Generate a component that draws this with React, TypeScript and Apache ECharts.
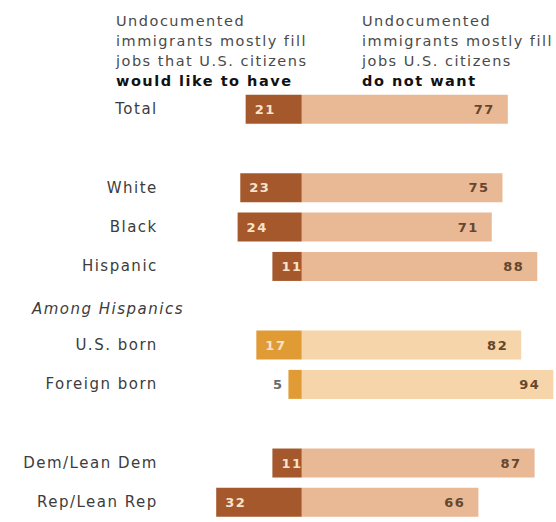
import React, { useEffect, useRef } from "react";
import * as echarts from "echarts";

// ---- data ----
const categories = [
  "Total",
  "",
  "White",
  "Black",
  "Hispanic",
  "Among Hispanics",
  "U.S. born",
  "Foreign born",
  " ",
  "Dem/Lean Dem",
  "Rep/Lean Rep",
];
const wouldLikeToHave: (number | null)[] = [21, null, 23, 24, 11, null, 17, 5, null, 11, 32];
const doNotWant: (number | null)[] = [77, null, 75, 71, 88, null, 82, 94, null, 87, 66];
const hispanicSubgroups = ["U.S. born", "Foreign born"];
const sectionLabels = ["Among Hispanics"];
const leftHeader = ["Undocumented", "immigrants mostly fill", "jobs that U.S. citizens"];
const leftHeaderBold = "would like to have";
const rightHeader = ["Undocumented", "immigrants mostly fill", "jobs U.S. citizens"];
const rightHeaderBold = "do not want";

// ---- styles ----
const FONT = "DejaVu Sans";
const DARK = "#a5582b";
const LIGHT = "#e9b995";
const ORANGE = "#e19b35";
const LIGHT_ORANGE = "#f5d5a9";

export default function App() {
  const ref = useRef<HTMLDivElement>(null);

  useEffect(() => {
    if (!ref.current) return;
    const chart = echarts.init(ref.current, undefined, { renderer: "svg" });

    const isSub = (i: number) => hispanicSubgroups.includes(categories[i]);

    const option: any = {
      animation: false,
      backgroundColor: "#ffffff",
      grid: { left: 194.8, top: 89.5, width: 361.8, height: 440 },
      xAxis: { type: "value", min: -40, max: 95, show: false },
      yAxis: {
        type: "category",
        data: categories,
        inverse: true,
        axisLine: { show: false },
        axisTick: { show: false },
        splitLine: { show: false },
        axisLabel: {
          interval: 0,
          margin: 37,
          fontSize: 15,
          fontFamily: FONT,
          color: "#3c3c3c",
          formatter: (v: string) => (sectionLabels.includes(v) ? "" : v),
        },
      },
      series: [
        {
          name: "Would like to have",
          type: "bar",
          stack: "total",
          barWidth: 29,
          data: wouldLikeToHave.map((v, i) =>
            v == null
              ? "-"
              : {
                  value: -v,
                  itemStyle: { color: isSub(i) ? ORANGE : DARK },
                  label:
                    v < 8
                      ? { position: "left", distance: 5, color: "#6a6a6a" }
                      : undefined,
                }
          ),
          label: {
            show: true,
            position: "insideLeft",
            distance: 9,
            fontFamily: FONT,
            fontSize: 13,
            fontWeight: "bold",
            color: "#f8e3cc",
            formatter: (p: any) => String(Math.abs(p.value)),
          },
        },
        {
          name: "Do not want",
          type: "bar",
          stack: "total",
          barWidth: 29,
          data: doNotWant.map((v, i) =>
            v == null
              ? "-"
              : { value: v, itemStyle: { color: isSub(i) ? LIGHT_ORANGE : LIGHT } }
          ),
          label: {
            show: true,
            position: "insideRight",
            distance: 13,
            fontFamily: FONT,
            fontSize: 13,
            fontWeight: "bold",
            color: "#65472f",
          },
        },
      ],
    };
    chart.setOption(option);

    const headerText = (x: number, lines: string[], bold: string) => [
      {
        type: "text",
        left: x,
        top: 11,
        style: {
          text: lines.join("\n"),
          fontFamily: FONT,
          fontSize: 14.5,
          lineHeight: 20,
          fill: "#4a4a4a",
        },
      },
      {
        type: "text",
        left: x,
        top: 71,
        style: {
          text: bold,
          fontFamily: FONT,
          fontSize: 14.5,
          fontWeight: "bold",
          lineHeight: 20,
          fill: "#111111",
        },
      },
    ];

    const sectionGraphics = sectionLabels.map((name) => {
      const y = chart.convertToPixel({ yAxisIndex: 0 }, name) as number;
      return {
        type: "text",
        x: 184,
        y: y + 3,
        style: {
          text: name,
          fontFamily: FONT,
          fontSize: 15,
          fontStyle: "italic",
          fill: "#3c3c3c",
          align: "right",
          verticalAlign: "middle",
        },
      };
    });

    chart.setOption({
      graphic: [
        ...headerText(116, leftHeader, leftHeaderBold),
        ...headerText(362, rightHeader, rightHeaderBold),
        ...sectionGraphics,
      ],
    });

    return () => chart.dispose();
  }, []);

  return (
    <>
      <style>{`.pew-chart text { letter-spacing: 1.5px; }`}</style>
      <div
        ref={ref}
        className="pew-chart"
        style={{ position: "fixed", left: 0, top: 0, width: 556, height: 522 }}
      />
    </>
  );
}
